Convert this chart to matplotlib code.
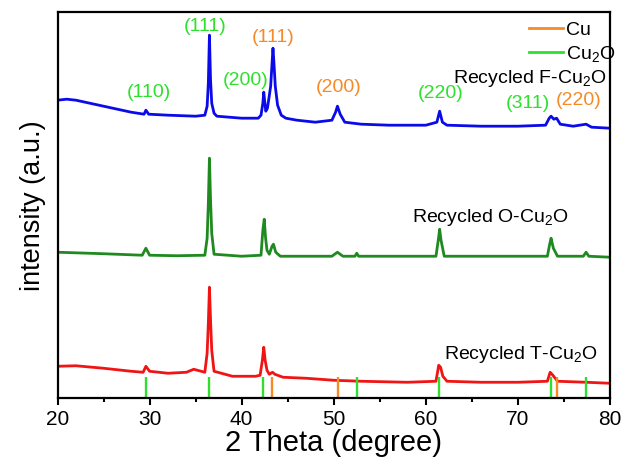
import matplotlib
matplotlib.use("Agg")
import matplotlib.pyplot as plt
from matplotlib.lines import Line2D

plt.rcParams["font.family"] = "Liberation Sans"
plt.rcParams["mathtext.fontset"] = "custom"
plt.rcParams["mathtext.rm"] = "Liberation Sans"
plt.rcParams["mathtext.default"] = "regular"

# recycled F-Cu2O pattern (top)
f_theta = [20, 21, 22, 24, 26, 28, 29.4, 29.6, 29.9, 32, 35, 36.0, 36.25, 36.38, 36.5,
           36.62, 36.75, 37.0, 37.3, 40, 41.8, 42.1, 42.3, 42.4, 42.5, 42.62, 42.8, 43.15,
           43.3, 43.4, 43.5, 43.65, 43.9, 44.3, 44.8, 46, 48, 49.8, 50.2, 50.4, 50.7, 51.2,
           53, 56, 60, 61.2, 61.5, 61.8, 62.3, 66, 70, 73, 73.4, 73.6, 73.9, 74.2, 74.6,
           76, 77.4, 78, 80]
f_int = [298, 299, 298, 294, 290, 286, 284, 288, 284, 283, 282, 283, 292, 315, 363,
         318, 295, 285, 282, 280, 280, 283, 295, 306, 297, 287, 290, 312,
         335, 350, 336, 312, 293, 283, 280, 278, 276, 278, 286, 292, 284, 276,
         274, 273, 273, 276, 287, 276, 273, 272, 272, 273, 280, 282, 279, 280, 274,
         272, 274, 271, 270]

# recycled O-Cu2O pattern (middle)
o_theta = [20, 25, 29.2, 29.6, 30.0, 33, 36.0, 36.25, 36.38, 36.5, 36.62, 36.75, 37.0,
           40, 42.1, 42.3, 42.45, 42.6, 42.75, 43.0, 43.3, 43.45, 43.7, 44.2, 49.8, 50.4,
           51.0, 52.3, 52.5, 52.7, 61.1, 61.35, 61.5, 61.65, 62.0, 73.2, 73.45, 73.6,
           73.85, 74.3, 77.1, 77.4, 77.7, 80]
o_int = [146, 144.5, 143, 150, 143, 142.5, 143, 160, 195, 240, 198, 165, 144,
         142, 143, 168, 179, 160, 148, 144, 152, 154, 146, 142, 142, 146,
         142, 142, 145, 142, 142, 158, 169, 158, 142, 142, 154, 160,
         150, 142, 142, 146, 142, 141]

# recycled T-Cu2O pattern (bottom)
t_theta = [20, 22, 25, 28, 29.3, 29.6, 30.0, 32, 34.0, 34.8, 35.6, 36.0, 36.25, 36.38,
           36.5, 36.62, 36.75, 37.0, 39, 41.5, 42.0, 42.25, 42.4, 42.55, 42.75, 43.0,
           43.35, 43.6, 44.5, 47, 50, 53, 58, 61.1, 61.4, 61.6, 61.85, 62.3, 66, 70,
           73.2, 73.5, 73.8, 74.3, 77.4, 80]
t_int = [32, 32.5, 30, 27, 26, 32, 27, 25, 26, 29, 27, 26, 45, 75,
         111, 78, 48, 27, 22, 22, 23, 38, 51, 38, 28, 24,
         26, 24, 21, 20, 18, 17, 16, 17, 33, 31, 22, 17, 16, 16,
         17, 26, 23, 17, 16, 15]

# reference line positions
cu2o_ref = [29.6, 36.45, 42.3, 52.5, 61.4, 73.6, 77.4]
cu_ref = [43.3, 50.45, 74.2]
ref_height = 21

# peak indices with their position and phase
peak_labels = ["(110)", "(111)", "(200)", "(111)", "(200)", "(220)", "(311)", "(220)"]
peak_x = [29.9, 36.0, 40.4, 43.4, 50.5, 61.6, 71.1, 76.6]
peak_y = [306, 372, 318, 361, 311, 305, 295, 298]
peak_phase = ["Cu2O", "Cu2O", "Cu2O", "Cu", "Cu", "Cu2O", "Cu2O", "Cu"]

blue = "#0b0bea"
dark_green = "#1f8a1f"
red = "#f01414"
cu_color = "#f58a26"
cu2o_color = "#2ee02e"

fig = plt.figure(figsize=(6.25, 4.68), dpi=100)
ax = fig.add_axes([0.092, 0.149, 0.884, 0.825])

ax.plot(f_theta, f_int, color=blue, lw=2)
ax.plot(o_theta, o_int, color=dark_green, lw=2)
ax.plot(t_theta, t_int, color=red, lw=2)

ax.vlines(cu2o_ref, 0, ref_height, color=cu2o_color, lw=1.7)
ax.vlines(cu_ref, 0, ref_height, color=cu_color, lw=1.7)

for lab, px, py, ph in zip(peak_labels, peak_x, peak_y, peak_phase):
    ax.text(px, py, lab, color=cu2o_color if ph == "Cu2O" else cu_color,
            fontsize=14, ha="center", va="center")

ax.text(62.9, 315, "Recycled F-Cu$_2$O", fontsize=14, ha="left", va="baseline")
ax.text(58.5, 176, "Recycled O-Cu$_2$O", fontsize=14, ha="left", va="baseline")
ax.text(62.0, 39, "Recycled T-Cu$_2$O", fontsize=14, ha="left", va="baseline")

handles = [Line2D([], [], color=cu_color, lw=2),
           Line2D([], [], color=cu2o_color, lw=2)]
ax.legend(handles, ["Cu", "Cu$_2$O"], loc="upper left", bbox_to_anchor=(0.853, 0.977),
          frameon=False, fontsize=14, handlelength=1.75, handletextpad=0.15,
          labelspacing=0.25, borderaxespad=0, borderpad=0)

ax.set_xlim(20, 80)
ax.set_ylim(0, 386)
ax.set_xticks([20, 30, 40, 50, 60, 70, 80])
ax.set_xticks([25, 35, 45, 55, 65, 75], minor=True)
ax.set_yticks([])
ax.tick_params(axis="x", which="major", direction="out", length=5, width=1.5,
               labelsize=15, top=False)
ax.tick_params(axis="x", which="minor", direction="out", length=3, width=1.5, top=False)
for sp in ax.spines.values():
    sp.set_linewidth(1.6)

ax.set_xlabel("2 Theta (degree)", fontsize=21, labelpad=0)
ax.set_ylabel("intensity (a.u.)", fontsize=19.5, labelpad=8)

fig.savefig("out.png", dpi=100)
